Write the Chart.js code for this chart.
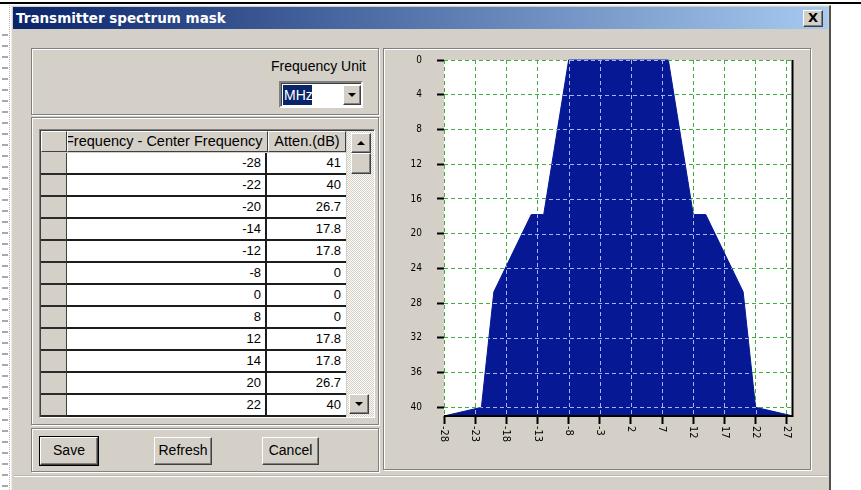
<!DOCTYPE html>
<html><head><meta charset="utf-8">
<script src="https://cdn.jsdelivr.net/npm/chart.js@4.4.0/dist/chart.umd.min.js"></script>
<style>
html,body{margin:0;padding:0;width:861px;height:490px;overflow:hidden;background:#fff;font-family:'Liberation Sans',Arial,sans-serif;}
.a{position:absolute;box-sizing:border-box;}
#topline{left:0;top:2px;width:861px;height:2px;background:#000;}
#strip{left:2px;top:30px;width:6px;height:460px;background:repeating-linear-gradient(to bottom,transparent 0 4px,#a8a8a8 4px 6px,transparent 6px 11px);}
#strip2{left:9px;top:5px;width:1px;height:485px;border-left:1px dotted #b8b8b8;}
#dlg{left:11px;top:5px;width:820px;height:490px;background:#D4D0C8;border-left:1px solid #eeece6;border-top:1px solid #eeece6;border-right:2px solid #505050;}
#title{left:13px;top:7px;width:815px;height:22px;background:linear-gradient(to right,#0A246A,#A6CAF0);color:#fff;font:bold 13.5px 'DejaVu Sans',sans-serif;line-height:22px;padding-left:3px;white-space:nowrap;}
#close{left:803px;top:10px;width:20px;height:17px;background:#D4D0C8;border:1px solid;border-color:#fff #404040 #404040 #fff;box-shadow:inset -1px -1px #808080;font:bold 13px 'DejaVu Sans',sans-serif;line-height:14px;text-align:center;color:#000;}
.etch{border:1px solid #808080;box-shadow:inset 1px 1px 0 #fff,1px 1px 0 #fff;}
.btn{background:#D4D0C8;border:1px solid;border-color:#fff #404040 #404040 #fff;box-shadow:inset -1px -1px #808080;font-size:14px;text-align:center;line-height:25px;color:#000;}
.def{outline:1px solid #000;}
.txt{font-size:14px;color:#000;white-space:nowrap;}
#combo{left:279px;top:81px;width:84px;height:27px;background:#fff;border:2px solid;border-color:#808080 #fff #fff #808080;box-shadow:inset 1px 1px #404040;}
#sel{left:283px;top:85px;width:29px;height:20px;background:#0A246A;color:#fff;font-size:14px;line-height:20px;padding-left:1px;}
#ddb{left:343px;top:85px;width:18px;height:20px;}
.tri{width:0;height:0;border-left:4px solid transparent;border-right:4px solid transparent;border-top:4px solid #000;position:absolute;}
.triu{width:0;height:0;border-left:4px solid transparent;border-right:4px solid transparent;border-bottom:4px solid #000;position:absolute;}
#tbl{left:39px;top:129px;width:336px;height:289px;border:1px solid;border-color:#808080 #fff #fff #808080;box-shadow:inset 1px 1px #404040;overflow:hidden;background:#D4D0C8;}
.cell{position:absolute;box-sizing:border-box;overflow:hidden;white-space:nowrap;}
.hdr{background:#D4D0C8;border:1px solid;border-color:#fff #404040 #404040 #fff;font-size:14.5px;line-height:18px;color:#000;}
.num{background:#fff;font-size:13px;line-height:20px;text-align:right;color:#000;border-bottom:2px solid #1c1c1c;}
.rs{background:#D4D0C8;border-bottom:2px solid #2a2a2a;border-right:1px solid #404040;}
#sb{left:307px;top:1px;width:28px;height:288px;background-image:repeating-conic-gradient(#fbfbf9 0% 25%,#D4D0C8 0% 50%);background-size:2px 2px;}
#chartwrap{left:384px;top:49px;width:426px;height:420px;}
#chartwrap canvas{display:block;}
</style></head>
<body>
<div class="a" id="topline"></div>
<div class="a" id="strip"></div>
<div class="a" id="strip2"></div>
<div class="a" id="dlg"></div>
<div class="a" id="title">Transmitter spectrum mask</div>
<div class="a" id="close">X</div>

<div class="a etch" style="left:31px;top:48px;width:348px;height:67px;"></div>
<div class="a etch" style="left:31px;top:117px;width:348px;height:308px;"></div>
<div class="a etch" style="left:31px;top:428px;width:348px;height:44px;"></div>
<div class="a etch" style="left:383px;top:48px;width:428px;height:422px;"></div>
<div class="a" style="left:14px;top:476px;width:814px;height:1px;background:#fff;"></div>
<div class="a" style="left:14px;top:475px;width:814px;height:1px;background:#b8b4ac;"></div>

<div class="a txt" style="left:250px;top:58px;width:116px;text-align:right;line-height:16px;">Frequency Unit</div>
<div class="a" id="combo"></div>
<div class="a" id="sel">MHz</div>
<div class="a btn" id="ddb"><div class="tri" style="left:4px;top:7px;"></div></div>

<div class="a" id="tbl"></div>

<div class="a btn def" style="left:40px;top:437px;width:58px;height:28px;">Save</div>
<div class="a btn" style="left:154px;top:437px;width:58px;height:28px;">Refresh</div>
<div class="a btn" style="left:262px;top:437px;width:57px;height:28px;">Cancel</div>

<div class="a" id="chartwrap"><canvas id="c" width="426" height="420"></canvas></div>

<script>
// ---- data ----
const colHeaders = ['Frequency - Center Frequency', 'Atten.(dB)'];
const freqs  = [-28, -22, -20, -14, -12, -8, 0, 8, 12, 14, 20, 22, 28];
const attens = [41, 40, 26.7, 17.8, 17.8, 0, 0, 0, 17.8, 17.8, 26.7, 40, 41];
const xTicks = [-28, -23, -18, -13, -8, -3, 2, 7, 12, 17, 22, 27];
const yTicks = [0, 4, 8, 12, 16, 20, 24, 28, 32, 36, 40];
const xMin = -28, xMax = 28, yMin = 0, yMax = 41;

// ---- table ----
const tbl = document.getElementById('tbl');
function cell(cls, l, t, w, h, txt, extra) {
  const d = document.createElement('div');
  d.className = 'cell ' + cls;
  d.style.left = l + 'px'; d.style.top = t + 'px';
  d.style.width = w + 'px'; d.style.height = h + 'px';
  if (txt !== undefined) d.textContent = txt;
  if (extra) Object.assign(d.style, extra);
  tbl.appendChild(d);
  return d;
}
cell('hdr', 1, 1, 26, 21);
cell('hdr', 27, 1, 201, 21, colHeaders[0], {textIndent: '-3px'});
cell('hdr', 228, 1, 78, 21, colHeaders[1], {textAlign: 'center'});
freqs.forEach((f, i) => {
  const top = 23 + i * 22;
  cell('rs', 1, top, 26, 22);
  cell('num', 27, top, 200, 22, String(f), {paddingRight: '4px', borderRight: '2px solid #1c1c1c'});
  cell('num', 227, top, 79, 22, String(attens[i]), {paddingRight: '5px'});
});
const sb = document.createElement('div'); sb.className = 'cell'; sb.id = 'sb'; tbl.appendChild(sb);
const up = cell('btn', 311, 3, 20, 20); up.innerHTML = '<div class="triu" style="left:5px;top:7px;"></div>';
cell('btn', 311, 23, 20, 21);
const dn = cell('btn', 309, 264, 20, 20); dn.innerHTML = '<div class="tri" style="left:5px;top:7px;"></div>';

// ---- chart ----
const GRID_GREEN = '#3FAE3F';
const GRID_ON_FILL = '#A4B4F4';
const FILL = '#061894';
const labelFont = "'Liberation Sans Narrow','DejaVu Sans Condensed',Arial,sans-serif";

const plotBg = {
  id: 'plotBg',
  beforeDraw(chart) {
    const {ctx, chartArea: a} = chart;
    ctx.save(); ctx.fillStyle = '#fff';
    ctx.fillRect(a.left, a.top, a.right - a.left, a.bottom - a.top);
    ctx.restore();
  }
};
const overlay = {
  id: 'overlay',
  afterDraw(chart) {
    const ctx = chart.ctx, a = chart.chartArea;
    const x = chart.scales.x, y = chart.scales.y;
    const base = y.getPixelForValue(yMax);
    // grid dashes visible over the filled mask
    ctx.save();
    ctx.strokeStyle = FILL; ctx.lineWidth = 1; ctx.setLineDash([]);
    ctx.beginPath();
    ctx.moveTo(x.getPixelForValue(freqs[0]), base);
    for (let i = 0; i < freqs.length; i++) {
      ctx.lineTo(x.getPixelForValue(freqs[i]), y.getPixelForValue(attens[i]));
    }
    ctx.lineTo(x.getPixelForValue(freqs[freqs.length - 1]), base);
    ctx.closePath();
    ctx.stroke();
    ctx.clip();
    ctx.strokeStyle = GRID_ON_FILL;
    ctx.lineWidth = 1;
    ctx.setLineDash([4, 3]);
    xTicks.forEach(v => {
      const px = Math.round(x.getPixelForValue(v)) + 0.5;
      ctx.beginPath(); ctx.moveTo(px, a.top); ctx.lineTo(px, a.bottom); ctx.stroke();
    });
    yTicks.forEach(v => {
      const py = Math.round(y.getPixelForValue(v)) + 0.5;
      ctx.beginPath(); ctx.moveTo(a.left, py); ctx.lineTo(a.right, py); ctx.stroke();
    });
    ctx.restore();
    // right and bottom frame
    ctx.save();
    ctx.strokeStyle = '#000'; ctx.lineWidth = 2; ctx.setLineDash([]);
    ctx.beginPath();
    ctx.moveTo(a.right - 0.5, a.top); ctx.lineTo(a.right - 0.5, a.bottom);
    ctx.moveTo(a.left, a.bottom); ctx.lineTo(a.right + 0.5, a.bottom);
    ctx.stroke();
    ctx.restore();
    // x tick labels, rotated to read downward
    ctx.save();
    ctx.fillStyle = '#000';
    ctx.font = '11px ' + labelFont;
    ctx.textAlign = 'left'; ctx.textBaseline = 'middle';
    xTicks.forEach(v => {
      const px = x.getPixelForValue(v);
      ctx.save();
      ctx.translate(px, a.bottom + 10);
      ctx.rotate(Math.PI / 2);
      ctx.fillText(String(v), 0, 0);
      ctx.restore();
    });
    ctx.restore();
  }
};

new Chart(document.getElementById('c'), {
  type: 'scatter',
  data: {
    datasets: [{
      data: freqs.map((f, i) => ({x: f, y: attens[i]})),
      showLine: true,
      fill: {value: yMax},
      backgroundColor: FILL,
      borderColor: FILL,
      borderWidth: 0,
      pointRadius: 0,
      pointHoverRadius: 0,
      tension: 0
    }]
  },
  options: {
    responsive: false,
    animation: false,
    devicePixelRatio: 1,
    events: [],
    layout: {padding: {top: 11, right: 17, left: 0, bottom: 0}},
    plugins: {legend: {display: false}, tooltip: {enabled: false}},
    scales: {
      x: {
        type: 'linear', min: xMin, max: xMax,
        afterBuildTicks: s => { s.ticks = xTicks.map(v => ({value: v})); },
        afterFit: s => { s.height = 53; s.paddingLeft = 0; s.paddingRight = 0; },
        ticks: {display: false},
        grid: {color: GRID_GREEN, lineWidth: 1, tickLength: 8, tickColor: '#000', tickWidth: 2},
        border: {display: false, dash: [4, 3]}
      },
      y: {
        type: 'linear', min: yMin, max: yMax, reverse: true,
        afterBuildTicks: s => { s.ticks = yTicks.map(v => ({value: v})); },
        afterFit: s => { s.width = 60; s.paddingTop = 0; s.paddingBottom = 0; },
        ticks: {color: '#000', padding: 15, font: {family: labelFont, size: 10}},
        grid: {color: GRID_GREEN, lineWidth: 1, tickLength: 7, tickColor: '#000', tickWidth: 2},
        border: {display: false, dash: [4, 3]}
      }
    }
  },
  plugins: [plotBg, overlay]
});
</script>
</body></html>
